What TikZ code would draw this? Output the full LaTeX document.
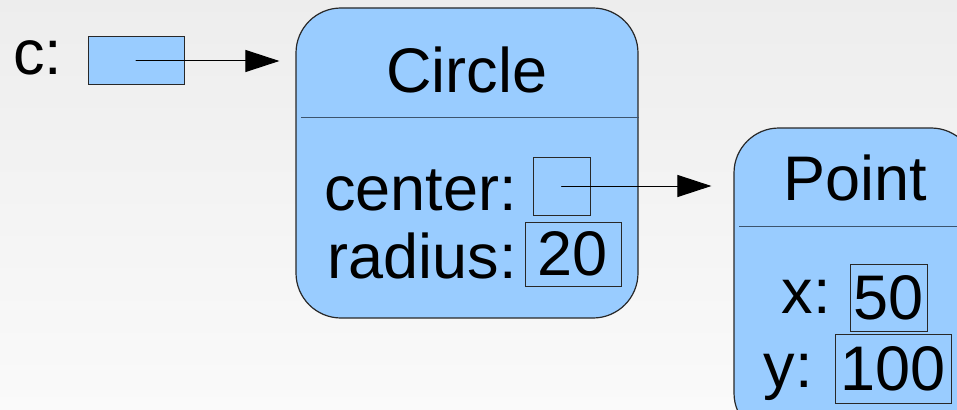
\documentclass[tikz,border=0pt]{standalone}
\usepackage{fontspec}
\setmainfont{Liberation Sans}
\usetikzlibrary{arrows.meta,positioning}
\definecolor{objblue}{RGB}{153,204,255}
\definecolor{rimgray}{RGB}{40,40,40}
\definecolor{rulegray}{RGB}{60,84,110}

\begin{document}
\begin{tikzpicture}[x=1pt,y=-1pt,>={Triangle[length=34pt,width=22pt]},
  font=\fontsize{63}{70}\selectfont,line cap=round,
  object/.style={draw=rimgray,line width=1.2pt,fill=objblue,rounded corners=45pt,inner sep=0pt},
  slot/.style={draw=rimgray,line width=1pt,fill=objblue,inner sep=0pt},
  fieldname/.style={inner sep=0pt},
  divider/.style={draw=rulegray,line width=1.5pt,line cap=butt},
  pointer/.style={->,line width=1pt}]
\useasboundingbox (0,0) rectangle (957,409);
\clip (0,0) rectangle (957,409);
\shade[top color=black!7,bottom color=black!2] (0,0) rectangle (957,409);

\node[fieldname,anchor=base] (clabel) at (38,75) {c:};
\node[slot,minimum width=96pt,minimum height=48pt] (cptr) at (136,61) {};

\node[object,minimum width=342pt,minimum height=310pt] (circle) at (467,163) {};
\draw[divider] ([xshift=6pt,yshift=-110pt]circle.north west) -- ([yshift=-110pt]circle.north east);
\node[fieldname,anchor=base] (circletitle) at (467,93) {Circle};
\node[fieldname,anchor=base east] (centername) at (517,210) {center:};
\node[slot,minimum width=57pt,minimum height=58pt] (centerslot) at (561.5,186) {};
\node[fieldname,anchor=base east] (radiusname) at (517,278) {radius:};
\node[slot,minimum width=96pt,minimum height=64pt] (radiusslot) at (573,254) {20};

\node[object,minimum width=242pt,minimum height=310pt] (point) at (855,283) {};
\draw[divider] ([xshift=6pt,yshift=-99pt]point.north west) -- ([yshift=-99pt]point.north east);
\node[fieldname,anchor=base] (pointtitle) at (855,200) {Point};
\node[fieldname,anchor=base east] (xname) at (831,313) {x:};
\node[slot,minimum width=77pt,minimum height=67pt] (xslot) at (888.5,297.5) {50};
\node[fieldname,anchor=base east] (yname) at (813,387) {y:};
\node[slot,minimum width=116pt,minimum height=69pt] (yslot) at (893,368.5) {100};

\draw[pointer,shorten >=16pt] (cptr.center) -- (cptr.center -| circle.west);
\draw[pointer,shorten >=22pt] (centerslot.center) -- (centerslot.center -| point.west);
\end{tikzpicture}
\end{document}
